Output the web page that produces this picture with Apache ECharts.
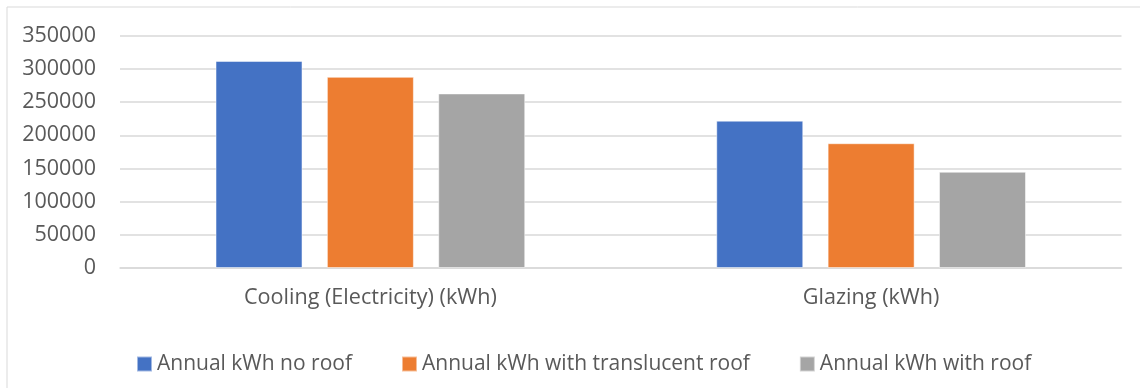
<!DOCTYPE html>
<html>
<head>
<meta charset="utf-8">
<script src="https://cdn.jsdelivr.net/npm/echarts@6/dist/echarts.min.js"></script>
<style>
  html, body { margin: 0; padding: 0; background: #ffffff; }
  #chart { width: 1140px; height: 388px; }
</style>
</head>
<body>
<div id="chart"></div>
<script>
// Annual energy use by category, for three roof options
const categories = ['Cooling (Electricity) (kWh)', 'Glazing (kWh)'];
const seriesNames = ['Annual kWh no roof', 'Annual kWh with translucent roof', 'Annual kWh with roof'];
const noRoof = [312000, 222000];
const translucentRoof = [288000, 188000];
const withRoof = [263000, 145000];
const yTicks = [0, 50000, 100000, 150000, 200000, 250000, 300000, 350000];

const colors = ['#4472C4', '#ED7D31', '#A5A5A5'];
const textColor = '#595959';
const fontFamily = '"Open Sans", "Noto Sans", sans-serif';

const chart = echarts.init(document.getElementById('chart'), null, { renderer: 'canvas' });

const values = [noRoof, translucentRoof, withRoof];

chart.setOption({
  animation: false,
  backgroundColor: '#ffffff',
  color: colors,
  textStyle: { fontFamily: fontFamily },
  graphic: [{
    type: 'rect',
    shape: { x: 7, y: 7, width: 1150, height: 400 },
    style: { fill: 'none', stroke: '#d9d9d9', lineWidth: 1 },
    silent: true,
    z: -10
  }],
  grid: {
    left: 120,
    right: 18.5,
    top: 35.7,
    bottom: 120,
    containLabel: false
  },
  legend: {
    left: 136,
    top: 353,
    padding: 0,
    icon: 'rect',
    itemWidth: 15,
    itemHeight: 15,
    itemGap: 49,
    textStyle: { color: textColor, fontSize: 21, fontFamily: fontFamily, lineHeight: 22 },
    data: seriesNames
  },
  xAxis: {
    type: 'category',
    data: categories,
    axisLine: { show: true, lineStyle: { color: '#d9d9d9', width: 1.5 } },
    axisTick: { show: false },
    axisLabel: {
      color: textColor,
      fontSize: 21.6,
      fontFamily: fontFamily,
      lineHeight: 22,
      margin: 19
    }
  },
  yAxis: {
    type: 'value',
    min: yTicks[0],
    max: yTicks[yTicks.length - 1],
    interval: yTicks[1] - yTicks[0],
    axisLine: { show: false },
    axisTick: { show: false },
    splitLine: { lineStyle: { color: '#d9d9d9', width: 1.5 } },
    axisLabel: {
      color: textColor,
      fontSize: 21.5,
      fontFamily: fontFamily,
      margin: 24,
      formatter: (v) => String(v)
    }
  },
  series: seriesNames.map((name, i) => ({
    name: name,
    type: 'bar',
    data: values[i],
    barWidth: 87,
    barGap: '28%',
    itemStyle: { color: colors[i], borderColor: 'rgba(255,255,255,0.5)', borderWidth: 1 }
  }))
});
</script>
</body>
</html>
